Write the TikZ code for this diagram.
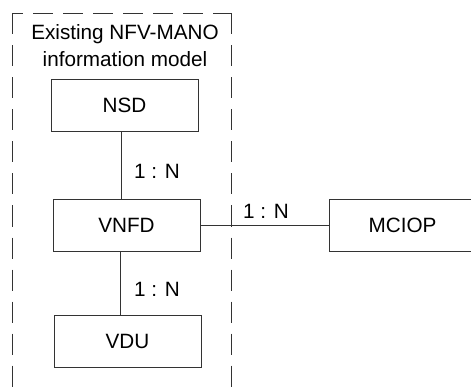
\documentclass[tikz,border=0pt]{standalone}
\usepackage{fontspec}
\setmainfont{Liberation Sans}
\usepackage{tikz}

\tikzset{
  descbox/.style={draw=black!80, line width=0.9pt, minimum width=147pt, minimum height=52pt, inner sep=0pt},
  mult/.style={inner sep=0pt},
  groupline/.style={black!80, line width=0.9pt, dash pattern=on 21pt off 11pt},
}

\begin{document}
\begin{tikzpicture}[x=1pt,y=-1pt,font=\fontsize{20.7}{27}\selectfont]
\useasboundingbox (0,0) rectangle (471,390);
% dashed group border, open at the bottom
\draw[groupline] (12,13.5) -- (12,400);
\draw[groupline] (231,13.5) -- (231,400);
\draw[groupline, dash pattern=on 20pt off 10pt, dash phase=9pt] (12,13.5) -- (231,13.5);
\node[align=center] (title) at (125,46) {Existing NFV-MANO\\information model};
\node[descbox] (nsd) at (124.5,105) {NSD};
\node[descbox] (vnfd) at (126.5,225) {VNFD};
\node[descbox] (vdu) at (127.5,341) {VDU};
\node[descbox] (mciop) at (402.5,225) {MCIOP};
\draw[black!80, line width=0.9pt] (nsd.south -| 121,0) -- (vnfd.north -| 121,0);
\draw[black!80, line width=0.9pt] (vnfd.south -| 120,0) -- (vdu.north -| 120,0);
\draw[black!80, line width=0.9pt] (vnfd.east) -- (mciop.west);
\node[mult] (m1) at (157,171) {1 : N};
\node[mult] (m2) at (157,289) {1 : N};
\node[mult] (m3) at (266,211) {1 : N};
\end{tikzpicture}
\end{document}
